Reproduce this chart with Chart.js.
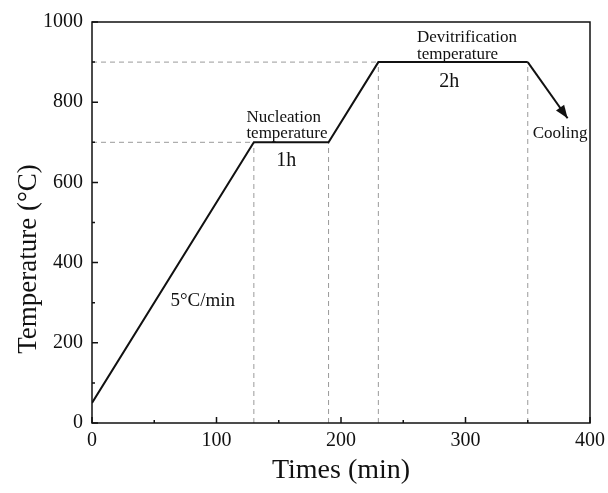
<!DOCTYPE html>
<html>
<head>
<meta charset="utf-8">
<title>Heat treatment schedule</title>
<script src="https://cdn.jsdelivr.net/npm/chart.js@4/dist/chart.umd.min.js"></script>
<style>
  html, body { margin: 0; padding: 0; background: #fff; }
  #wrap { width: 608px; height: 493px; }
</style>
</head>
<body>
<div id="wrap"><canvas id="schedule" width="608" height="493"></canvas></div>
<script>
// heating schedule: time (min) vs furnace temperature (°C)
const times = [0, 130, 190, 230, 350]
const temps = [50, 700, 700, 900, 900]
// cooling step after the second hold (drawn as an arrow)
const coolTimes = [350, 382]
const coolTemps = [900, 760]
// hold temperatures and the times where each stage starts / ends
const holdTemps = [700, 900]
const holdEnds = [130, 230]
const stageTimes = [130, 190, 230, 350]
const stageTops = [700, 700, 900, 900]

const xTicks = [0, 100, 200, 300, 400]
const yTicks = [0, 200, 400, 600, 800, 1000]

const serif = "'Liberation Serif', 'Times New Roman', serif"
const guideColor = "#9a9a9a"

function pts(xs, ys) {
    return xs.map((x, i) => ({ x: x, y: ys[i] }))
}

const guides = []
holdTemps.forEach((t, i) => {
    guides.push({ data: pts([0, holdEnds[i]], [t, t]) })
})
stageTimes.forEach((x, i) => {
    guides.push({ data: pts([x, x], [0, stageTops[i]]) })
})

const datasets = guides.map(g => ({
    data: g.data,
    borderColor: guideColor,
    borderWidth: 1,
    borderDash: [5, 4],
    pointRadius: 0,
    showLine: true,
    order: 3
}))

datasets.push({
    label: "schedule",
    data: pts(times, temps),
    borderColor: "#111",
    borderWidth: 2,
    pointRadius: 0,
    showLine: true,
    order: 1
})

datasets.push({
    label: "cooling",
    data: pts(coolTimes, coolTemps),
    borderColor: "#111",
    borderWidth: 2,
    pointRadius: 0,
    showLine: true,
    order: 1
})

// text notes, placed in data coordinates
const notes = [
    { text: "Nucleation", x: 124, y: 762, size: 17, align: "left" },
    { text: "temperature", x: 124, y: 723, size: 17, align: "left" },
    { text: "1h", x: 156, y: 655, size: 20, align: "center" },
    { text: "Devitrification", x: 261, y: 962, size: 17, align: "left" },
    { text: "temperature", x: 261, y: 918, size: 17, align: "left" },
    { text: "2h", x: 287, y: 850, size: 20, align: "center" },
    { text: "Cooling", x: 376, y: 723, size: 17, align: "center" },
    { text: "5°C/min", x: 89, y: 305, size: 19, align: "center" }
]

const framePlugin = {
    id: "frame",
    afterDatasetsDraw(chart) {
        const ctx = chart.ctx
        const a = chart.chartArea
        const xs = chart.scales.x
        const ys = chart.scales.y
        ctx.save()

        // arrow head at the end of the cooling line
        const tx = xs.getPixelForValue(coolTimes[1])
        const ty = ys.getPixelForValue(coolTemps[1])
        const fx = xs.getPixelForValue(coolTimes[0])
        const fy = ys.getPixelForValue(coolTemps[0])
        const ang = Math.atan2(ty - fy, tx - fx)
        ctx.fillStyle = "#111"
        ctx.beginPath()
        ctx.moveTo(tx, ty)
        ctx.lineTo(tx - 13 * Math.cos(ang) + 5 * Math.sin(ang), ty - 13 * Math.sin(ang) - 5 * Math.cos(ang))
        ctx.lineTo(tx - 13 * Math.cos(ang) - 5 * Math.sin(ang), ty - 13 * Math.sin(ang) + 5 * Math.cos(ang))
        ctx.closePath()
        ctx.fill()

        // box around the plot
        ctx.strokeStyle = "#111"
        ctx.lineWidth = 1.5
        ctx.strokeRect(a.left, a.top, a.right - a.left, a.bottom - a.top)

        // inward ticks, majors and minors
        ctx.beginPath()
        for (let v = 0; v <= 400; v += 50) {
            const px = xs.getPixelForValue(v)
            const len = v % 100 === 0 ? 6 : 3
            ctx.moveTo(px, a.bottom)
            ctx.lineTo(px, a.bottom - len)
        }
        for (let v = 0; v <= 1000; v += 100) {
            const py = ys.getPixelForValue(v)
            const len = v % 200 === 0 ? 6 : 3
            ctx.moveTo(a.left, py)
            ctx.lineTo(a.left + len, py)
        }
        ctx.stroke()

        // y axis title, sitting a little below the middle of the axis
        ctx.fillStyle = "#111"
        ctx.font = "27px " + serif
        ctx.textAlign = "center"
        ctx.textBaseline = "middle"
        ctx.translate(29, 259)
        ctx.rotate(-Math.PI / 2)
        ctx.fillText("Temperature (°C)", 0, 0)
        ctx.setTransform(1, 0, 0, 1, 0, 0)

        // notes
        notes.forEach(n => {
            ctx.font = n.size + "px " + serif
            ctx.textAlign = n.align
            ctx.fillText(n.text, xs.getPixelForValue(n.x), ys.getPixelForValue(n.y))
        })
        ctx.restore()
    }
}

new Chart(document.getElementById("schedule"), {
    type: "scatter",
    data: { datasets: datasets },
    options: {
        responsive: false,
        animation: false,
        layout: { padding: { left: 0, top: 22, right: 0, bottom: 0 } },
        plugins: { legend: { display: false }, tooltip: { enabled: false } },
        scales: {
            x: {
                type: "linear",
                min: 0,
                max: 400,
                afterBuildTicks: s => { s.ticks = xTicks.map(v => ({ value: v })) },
                afterFit: s => { s.height = 70; s.paddingRight = 18 },
                grid: { display: false, drawTicks: false },
                border: { display: false },
                ticks: { color: "#111", font: { family: serif, size: 20 }, padding: 6, maxRotation: 0 },
                title: { display: true, text: "Times (min)", color: "#111", font: { family: serif, size: 28 }, padding: { top: 0, bottom: 6 } }
            },
            y: {
                min: 0,
                max: 1000,
                afterBuildTicks: s => { s.ticks = yTicks.map(v => ({ value: v })) },
                afterFit: s => { s.width = 92 },
                grid: { display: false, drawTicks: false },
                border: { display: false },
                ticks: { color: "#111", font: { family: serif, size: 20 }, padding: 9, callback: v => String(v) },
                title: { display: false }
            }
        }
    },
    plugins: [framePlugin]
})
</script>
</body>
</html>
